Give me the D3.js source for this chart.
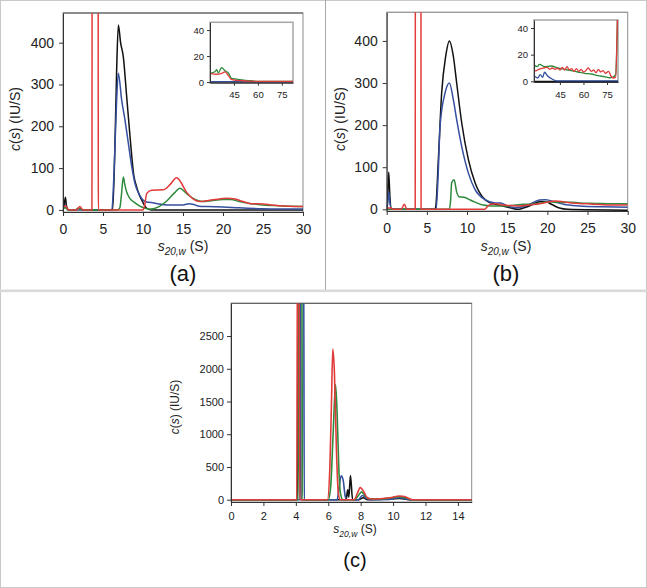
<!DOCTYPE html>
<html><head><meta charset="utf-8">
<script src="https://cdn.jsdelivr.net/npm/d3@7"></script>
<style>
html,body{margin:0;padding:0;background:#fff;}
svg{display:block;font-family:"Liberation Sans",Arial,sans-serif;}
</style>
</head><body>
<svg id="fig" width="647" height="588"></svg>
<script>
// ---------- DATA (sedimentation coefficient s, c(s)) ----------
// Panel (a) main
const aBlack = [[0,3],[0.15,12],[0.3,30],[0.45,8],[0.7,0],[1.6,0],[1.9,4],[2.2,2],[2.5,0],[6.2,0],[6.45,120],[6.7,330],[6.92,442],[7.2,400],[7.54,366],[7.96,271],[8.38,175],[8.88,79],[9.1,62],[9.4,43],[9.96,19],[10.46,4],[11,0],[30,0]];
const aBlue  = [[0,2],[0.3,12],[0.5,3],[0.7,0],[6.1,0],[6.4,100],[6.7,260],[6.92,327],[7.33,263],[7.75,215],[8.17,159],[8.6,103],[9.0,63],[9.6,35],[10.46,19],[11,18],[12,14],[13,12],[14,12],[15,12],[15.8,15],[16.5,12],[17,9],[18,8],[20,7],[22,5],[25,3],[30,2]];
const aGreen = [[0,2],[0.3,5],[0.6,0],[1.7,0],[2.0,4],[2.3,1],[2.6,0],[6.8,0],[7.1,5],[7.3,35],[7.54,79],[7.75,58],[7.96,43],[8.38,27],[9.0,17],[9.83,7],[10.5,3],[11,2],[12,8],[13,22],[14,42],[14.6,52],[15.5,38],[16.5,25],[17.5,20],[18.5,22],[20,25],[21,25],[22,20],[23.5,15],[25,12],[27,10],[30,8]];
const aRed   = [[0,5],[0.3,10],[0.6,2],[0.8,0],[1.7,0],[2.1,8],[2.5,0],[3.62,0],[3.68,2000],[4.35,2000],[4.42,0],[10.0,0],[10.2,10],[10.46,39],[11.08,47],[12.54,48],[13.4,61],[14.2,77],[14.6,70],[15.46,42],[16.3,26],[17.1,20],[18,22],[19,25],[20.5,28],[21.5,26],[22.5,20],[23.5,15],[25,14],[26,12],[27,10],[30,8]];
// Panel (a) inset
const iaBlack = [[30,0],[82,0]];
const iaBlue  = [[30,0.3],[82,0.3]];
const iaGreen = [[30,6.7],[33.1,7.9],[34.2,9.5],[35.2,7],[37.3,11],[39.4,8.7],[41.5,7],[43.6,2.8],[46.7,2.3],[51,1.5],[55.3,1],[60,0.5],[82,0.5]];
const iaRed   = [[30,6.7],[34,6],[37,6.5],[39.4,7.9],[41.5,5],[43.6,1.8],[46.7,1.3],[50,1],[55,0.7],[60,0.5],[82,0.5]];
// Panel (b) main
const bBlack = [[0,0],[0.1,20],[0.25,88],[0.4,30],[0.6,0],[6.0,0],[6.1,5],[6.43,118],[6.84,276],[7.34,363],[7.8,400],[8.3,363],[8.71,300],[9.34,205],[10.17,118],[11,63],[12.24,23],[13.5,12],[14.5,8],[15.5,3],[16.3,0],[17,3],[18,10],[19,18],[19.8,18],[20.5,12],[21.5,3],[22.5,0],[30,-2]];
const bBlue  = [[0,0],[0.1,10],[0.25,42],[0.4,15],[0.6,0],[6.15,0],[6.4,80],[6.64,197],[7.26,276],[7.8,300],[8.3,260],[8.71,213],[9.34,149],[10.17,86],[11,47],[12.24,23],[13.5,15],[14.2,15],[15,8],[16,4],[17,6],[18,14],[19,22],[19.8,23],[21,17],[22,12],[24,8],[27,6],[30,5]];
const bGreen = [[0,0],[7.8,0],[7.95,20],[8.09,63],[8.4,70],[8.7,42],[8.99,30],[9.74,28],[10.4,22],[11,17],[12,10],[13,8],[14,8],[15,8],[16,10],[17,12],[18,12],[19,14],[20,18],[21,17],[22,16],[23,17],[24,15],[26,14],[28,13],[30,13]];
const bRed   = [[0,3],[0.5,3],[0.8,0],[1.8,0],[2.2,12],[2.5,0],[3.55,0],[3.61,2000],[4.22,2000],[4.28,0],[12.2,0],[12.6,8],[13,12],[13.5,13],[14.5,10],[15.5,9],[16.5,8],[17.5,10],[19,13],[20,17],[21,20],[22,18],[23,15],[25,13],[27,11],[30,10]];
// Panel (b) inset
const ibBlack = [[28.5,0],[82,0]];
const ibBlue  = [[28.5,4.2],[30.8,2.5],[32.5,5],[34,3],[35.2,6.8],[37.2,4],[40.4,1.5],[43,0.3],[82,0.3]];
const ibGreen = [[28.5,12.2],[30.5,11],[32,12.7],[35.2,11],[39.4,11.5],[43.7,10],[47.9,9],[52.2,8],[56.4,7],[60.7,6],[64.9,5.5],[69.2,4.2],[73.4,3.5],[76.6,2.7],[78.5,3],[80.5,5],[81.6,46]];
const ibRed   = [[28.5,7.5],[30,8],[31.5,9],[33,9.5],[35,10],[37,10.5],[38.5,9],[40,10],[42,9],[43.5,9.8],[45,8.5],[46.5,10.5],[48,8.5],[49.5,11],[51,8.5],[52.5,9.5],[54,7.5],[55.5,9.5],[57,7.5],[58.5,9],[60,7],[61.5,8],[63,10],[65,7.5],[66.5,8.5],[68,6.5],[69.5,9],[71,7],[72.5,8],[74,6],[76,7.5],[77.5,4],[79,2.5],[80.5,3],[81.6,46]];
// Panel (c)
const cBlack = [[0,0],[4.1,0],[4.14,4000],[4.27,4000],[4.31,0],[7.1,0],[7.2,150],[7.27,40],[7.37,370],[7.5,0],[7.9,0],[8.15,30],[8.4,0],[9.5,8],[10.4,20],[11,0],[14.85,0]];
const cBlue  = [[0,0],[4.26,0],[4.3,4000],[4.48,4000],[4.52,0],[6.55,0],[6.65,150],[6.8,365],[6.92,300],[7.04,60],[7.15,0],[7.85,0],[8.1,65],[8.35,20],[8.6,0],[9.8,5],[10.4,30],[10.9,5],[11.2,0],[14.85,0]];
const cGreen = [[0,0],[4.15,0],[4.19,4000],[4.37,4000],[4.41,0],[6.0,0],[6.15,200],[6.3,1000],[6.45,1760],[6.55,1300],[6.65,500],[6.75,100],[6.9,0],[7.6,0],[7.85,60],[8.05,120],[8.3,50],[8.6,10],[9.2,10],[9.8,25],[10.4,45],[10.8,30],[11.1,0],[14.85,0]];
const cRed   = [[0,0],[4.06,0],[4.1,4000],[4.2,4000],[4.24,0],[5.95,0],[6.1,500],[6.2,1500],[6.28,2300],[6.38,1950],[6.5,800],[6.62,100],[6.75,0],[7.6,0],[7.8,100],[7.97,185],[8.2,120],[8.4,30],[8.7,10],[9.2,15],[9.8,30],[10.4,56],[10.7,50],[11,15],[11.2,0],[14.85,0]];

// Tick values
const abXTicks = [0,5,10,15,20,25,30];
const abYTicks = [0,100,200,300,400];
const insetXTicks = [45,60,75];
const insetYTicks = [0,20,40];
const cXTicks = [0,2,4,6,8,10,12,14];
const cYTicks = [0,500,1000,1500,2000,2500];
const panelLabels = ["(a)","(b)","(c)"];

const COLORS = {black:"#111111", blue:"#34509f", green:"#2d8a3c", red:"#e23b3b"};

// ---------- DRAWING ----------
const svg = d3.select("#fig");
svg.append("rect").attr("x",0.5).attr("y",0.5).attr("width",646).attr("height",587)
  .attr("fill","#fff").attr("stroke","#c9c9c9");
svg.append("line").attr("x1",325.5).attr("x2",325.5).attr("y1",0).attr("y2",290)
  .attr("stroke","#a8a8a8");
svg.append("rect").attr("x",0).attr("y",289.5).attr("width",647).attr("height",2.6).attr("fill","#d9d9d9");

let clipId = 0;
function plot(cfg){
  const g = svg.append("g");
  const x = d3.scaleLinear().domain(cfg.xd).range([cfg.L, cfg.R]);
  const y = d3.scaleLinear().domain(cfg.yd).range([cfg.B, cfg.T]);
  const id = "clip"+(clipId++);
  g.append("clipPath").attr("id",id).append("rect")
    .attr("x",cfg.L).attr("y",cfg.T).attr("width",cfg.R-cfg.L).attr("height",cfg.B-cfg.T);
  g.append("rect").attr("x",cfg.L).attr("y",cfg.T).attr("width",cfg.R-cfg.L).attr("height",cfg.B-cfg.T)
    .attr("fill","#fff").attr("stroke",cfg.frame||"#8c8c8c").attr("stroke-width",cfg.frameW||1);
  if (cfg.topLine) g.append("line").attr("x1",cfg.L).attr("x2",cfg.R).attr("y1",cfg.T).attr("y2",cfg.T).attr("stroke",cfg.topLine);
  const line = d3.line().x(d=>x(d[0])).y(d=>y(d[1])).curve(d3.curveMonotoneX);
  const lg = g.append("g").attr("clip-path",`url(#${id})`);
  cfg.series.forEach(s=>{
    lg.append("path").datum(s.data).attr("d",line).attr("fill","none")
      .attr("stroke",s.color).attr("stroke-width",cfg.lw).attr("stroke-linejoin","round");
  });
  const xa = g.append("g").attr("transform",`translate(0,${cfg.B})`)
    .call(d3.axisBottom(x).tickValues(cfg.xt).tickSize(cfg.tick).tickSizeOuter(0).tickPadding(cfg.xpad).tickFormat(d3.format("d")));
  const ya = g.append("g").attr("transform",`translate(${cfg.L},0)`)
    .call(d3.axisLeft(y).tickValues(cfg.yt).tickSize(cfg.tick).tickSizeOuter(0).tickPadding(cfg.ypad).tickFormat(d3.format("d")));
  [xa,ya].forEach(a=>{
    a.select(".domain").attr("stroke","#333").attr("stroke-width",1);
    a.selectAll(".tick line").attr("stroke","#333");
    a.selectAll("text").attr("font-size",cfg.fs).attr("fill","#222")
      .attr("font-family","'Liberation Sans',Arial,sans-serif");
  });
  return {x,y,g};
}

function titles(cfg){
  const yt = svg.append("text").attr("transform",`translate(${cfg.yx},${cfg.yy}) rotate(-90)`)
    .attr("text-anchor","middle").attr("dy","0.35em").attr("font-size",cfg.tfs).attr("fill","#222");
  yt.append("tspan").attr("font-style","italic").text("c");
  yt.append("tspan").text("(");
  yt.append("tspan").attr("font-style","italic").text("s");
  yt.append("tspan").text(") (IU/S)");
  const xt = svg.append("text").attr("x",cfg.xx).attr("y",cfg.xy).attr("text-anchor","middle")
    .attr("font-size",cfg.tfs).attr("fill","#222");
  xt.append("tspan").attr("font-style","italic").text("s");
  xt.append("tspan").attr("font-style","italic").attr("font-size",cfg.sfs).attr("dy",cfg.tfs*0.3).text("20,w");
  xt.append("tspan").attr("dy",-cfg.tfs*0.3).text(" (S)");
  svg.append("text").attr("x",cfg.lx).attr("y",cfg.ly).attr("text-anchor","middle")
    .attr("font-size",cfg.lfs).attr("fill","#111").text(cfg.label);
}

const ser = (k,b,g,r)=>[{data:k,color:COLORS.black},{data:b,color:COLORS.blue},{data:g,color:COLORS.green},{data:r,color:COLORS.red}];

// Panel (a)
plot({L:63,R:303,T:13,B:212,xd:[0,30],yd:[-5,471],xt:abXTicks,yt:abYTicks,tick:4,xpad:8,ypad:5,fs:14,lw:1.5,
  topLine:"#555",series:ser(aBlack,aBlue,aGreen,aRed)});
plot({L:210,R:293,T:22.3,B:82.7,xd:[30,82],yd:[-0.5,46],xt:insetXTicks,yt:insetYTicks,tick:3,xpad:6,ypad:3,fs:9.5,lw:1.3,
  frame:"#a5a5a5",frameW:1.5,series:ser(iaBlack,iaBlue,iaGreen,iaRed)});
titles({yx:15,yy:119,xx:183,xy:251,tfs:14,sfs:10,lx:183,ly:281,lfs:22,label:panelLabels[0]});

// Panel (b)
plot({L:386.7,R:627.7,T:12.3,B:211,xd:[0,30],yd:[-4,468],xt:abXTicks,yt:abYTicks,tick:4,xpad:8,ypad:5,fs:14,lw:1.5,
  topLine:"#999",series:ser(bBlack,bBlue,bGreen,bRed)});
plot({L:534,R:618,T:20,B:82,xd:[28.5,82],yd:[-0.5,46],xt:insetXTicks,yt:insetYTicks,tick:3,xpad:6,ypad:3,fs:9.5,lw:1.3,
  frame:"#a5a5a5",frameW:1.5,series:ser(ibBlack,ibBlue,ibGreen,ibRed)});
titles({yx:340,yy:119,xx:506,xy:251,tfs:14,sfs:10,lx:506,ly:281,lfs:22,label:panelLabels[1]});

// Panel (c)
plot({L:231,R:471.7,T:303.3,B:502,xd:[0,14.85],yd:[-35,3000],xt:cXTicks,yt:cYTicks,tick:4,xpad:6,ypad:3,fs:11,lw:1.6,
  topLine:"#555",series:ser(cBlack,cBlue,cGreen,cRed)});
titles({yx:175,yy:407,xx:355,xy:533,tfs:12,sfs:8.5,lx:355,ly:567,lfs:20,label:panelLabels[2]});
</script>
</body></html>
